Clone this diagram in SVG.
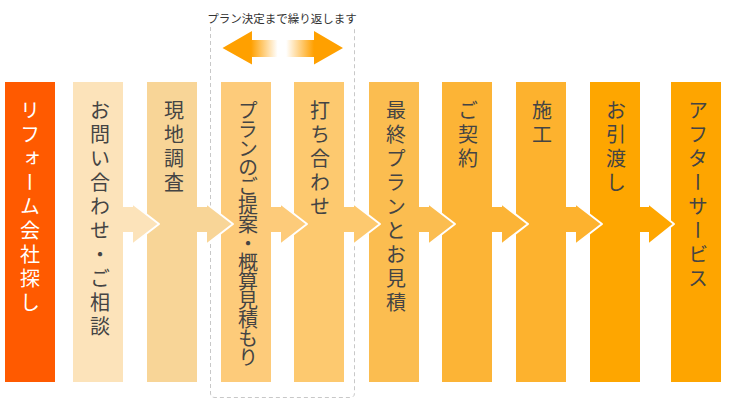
<svg xmlns="http://www.w3.org/2000/svg" width="730" height="415" viewBox="0 0 730 415">
<style>
.lbl{font-family:"Noto Sans CJK JP","Noto Sans",sans-serif;font-size:20px;writing-mode:vertical-rl;text-orientation:upright;letter-spacing:4px;fill:#444}
.w{fill:#fff}
.tight{letter-spacing:-1px}
.note{font-family:"Noto Sans CJK JP","Noto Sans",sans-serif;font-size:11.5px;fill:#333}
.tipline{fill:none;stroke:#fff;stroke-width:2;stroke-linejoin:round;stroke-linecap:round}
</style>
<defs>
<linearGradient id="dg" gradientUnits="userSpaceOnUse" x1="222" y1="0" x2="343" y2="0">
<stop offset="0.24" stop-color="#ffa000"/>
<stop offset="0.46" stop-color="#ffffff"/>
<stop offset="0.53" stop-color="#ffffff"/>
<stop offset="0.76" stop-color="#ffa000"/>
</linearGradient>
</defs>
<rect width="730" height="415" fill="#fff"/>
<g id="loop">
<path d="M210.5,27 V393 Q210.5,397.5 215,397.5 H350 Q354.5,397.5 354.5,393 V27" fill="none" stroke="#c8c8c8" stroke-width="1" stroke-dasharray="4 3"/>
<text class="note" x="282" y="23" text-anchor="middle">プラン決定まで繰り返します</text>
<path d="M222.5,48 L252,31 V40 H314 V31 L343,48 L314,64.5 V57 H252 V64.5 Z" fill="url(#dg)"/>
</g>
<g id="n1"><rect x="5" y="82" width="50" height="300" fill="#ff5a00"/><text class="lbl w" x="30" y="100">リフォーム会社探し</text></g>
<g id="n2"><rect x="73" y="82" width="50" height="300" fill="#fce3ba"/><text class="lbl" x="100" y="100">お問い合わせ・ご相談</text></g>
<g id="n3"><rect x="147" y="82" width="50" height="300" fill="#f8d597"/><text class="lbl" x="174" y="100">現地調査</text></g>
<g id="n4"><rect x="221" y="82" width="50" height="300" fill="#fdcb7a"/><text class="lbl tight" x="248" y="100">プランのご提案・概算見積もり</text></g>
<g id="n5"><rect x="294" y="82" width="50" height="300" fill="#fdc96f"/><text class="lbl" x="320" y="100">打ち合わせ</text></g>
<g id="n6"><rect x="369" y="82" width="50" height="300" fill="#fbbd50"/><text class="lbl" x="396" y="100">最終プランとお見積</text></g>
<g id="n7"><rect x="442" y="82" width="50" height="300" fill="#fcb436"/><text class="lbl" x="468" y="100">ご契約</text></g>
<g id="n8"><rect x="516" y="82" width="50" height="300" fill="#fdb22e"/><text class="lbl" x="542" y="100">施工</text></g>
<g id="n9"><rect x="590" y="82" width="50" height="300" fill="#fea600"/><text class="lbl" x="616" y="100">お引渡し</text></g>
<g id="n10"><rect x="671" y="82" width="50" height="300" fill="#fea500"/><text class="lbl" x="698" y="100">アフターサービス</text></g>
<g id="connectors">
<g transform="translate(123,0)"><path d="M0,207 H10 V204 L36,224 L10,244 V232 H0 Z" fill="#fce3ba"/><path class="tipline" d="M10,204 L36,224 L10,244"/></g>
<g transform="translate(197,0)"><path d="M0,207 H10 V204 L36,224 L10,244 V232 H0 Z" fill="#f8d597"/><path class="tipline" d="M10,204 L36,224 L10,244"/></g>
<g transform="translate(271,0)"><path d="M0,207 H10 V204 L36,224 L10,244 V232 H0 Z" fill="#fdcb7a"/><path class="tipline" d="M10,204 L36,224 L10,244"/></g>
<g transform="translate(344,0)"><path d="M0,207 H10 V204 L36,224 L10,244 V232 H0 Z" fill="#fdc96f"/><path class="tipline" d="M10,204 L36,224 L10,244"/></g>
<g transform="translate(419,0)"><path d="M0,207 H10 V204 L36,224 L10,244 V232 H0 Z" fill="#fbbd50"/><path class="tipline" d="M10,204 L36,224 L10,244"/></g>
<g transform="translate(492,0)"><path d="M0,207 H10 V204 L36,224 L10,244 V232 H0 Z" fill="#fcb436"/><path class="tipline" d="M10,204 L36,224 L10,244"/></g>
<g transform="translate(566,0)"><path d="M0,207 H10 V204 L36,224 L10,244 V232 H0 Z" fill="#fdb22e"/><path class="tipline" d="M10,204 L36,224 L10,244"/></g>
<g transform="translate(640,0)"><path d="M0,207 H9 V204 L34,224 L9,244 V232 H0 Z" fill="#fea600"/><path class="tipline" d="M9,204 L34,224 L9,244"/></g>
</g>
</svg>
